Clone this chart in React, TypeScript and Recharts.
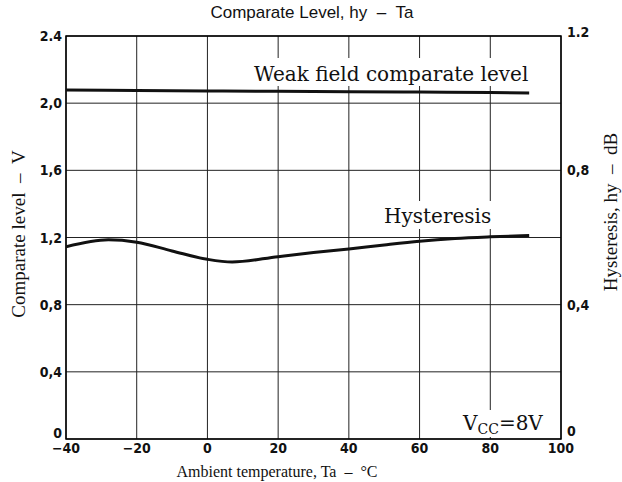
import {
  CartesianGrid,
  Line,
  LineChart,
  ReferenceArea,
  XAxis,
  YAxis,
} from 'recharts'

// valeurs
const tempTicks = [-40, -20, 0, 20, 40, 60, 80, 100]
const levelTicks = [0, 0.4, 0.8, 1.2, 1.6, 2.0, 2.4]
const levelTickLabels = ['0', '0,4', '0,8', '1,2', '1,6', '2,0', '2.4']
const hystTicks = [0, 0.4, 0.8, 1.2]
const hystTickLabels = ['0', '0,4', '0,8', '1.2']

const weakTemps = [-40, -20, 0, 20, 40, 60, 80, 91]
const weakLevel = [2.078, 2.076, 2.073, 2.071, 2.068, 2.066, 2.063, 2.06]

const hystTemps = [-40, -28, -20, -10, 0, 7, 20, 30, 40, 50, 60, 70, 80, 91]
const hystDb = [0.572, 0.593, 0.586, 0.56, 0.535, 0.527, 0.543, 0.555, 0.566, 0.578, 0.589, 0.597, 0.602, 0.606]

const weakData = weakTemps.map((t, i) => ({ t, v: weakLevel[i] }))
const hystData = hystTemps.map((t, i) => ({ t, h: hystDb[i] }))

const W = 622
const H = 482
const tickFont = "'DejaVu Sans Condensed', 'Liberation Sans', sans-serif"
const serif = "'Liberation Serif', 'Times New Roman', serif"
const wide = "'DejaVu Serif', serif"
const sp = '\u00a0\u00a0'

const tickStyle = { fill: '#111', fontSize: 14, fontWeight: 700, fontFamily: tickFont }

// étiquettes d'axe : le "0" du bas est remonté comme sur l'original
function LevelTick({ x, y, payload }: any) {
  const i = levelTicks.indexOf(payload.value)
  return (
    <text x={x} y={y + (payload.value === 0 ? -6 : 0)} dy={5} textAnchor="end" {...tickStyle}>
      {levelTickLabels[i] ?? payload.value}
    </text>
  )
}

function HystTick({ x, y, payload }: any) {
  const i = hystTicks.indexOf(payload.value)
  const shift = payload.value === 0 ? -8 : payload.value === 1.2 ? -4 : 0
  return (
    <text x={x} y={y + shift} dy={5} textAnchor="start" {...tickStyle}>
      {hystTickLabels[i] ?? payload.value}
    </text>
  )
}

export default function App() {
  return (
    <div style={{ position: 'absolute', left: 0, top: 0, width: W, height: H, background: '#fff' }}>
      <LineChart
        width={W}
        height={H}
        margin={{ top: 36, right: 11, bottom: 23, left: 16 }}
      >
        <CartesianGrid yAxisId="lvl" stroke="#222" strokeWidth={1} />
        <XAxis
          type="number"
          dataKey="t"
          domain={[-40, 100]}
          ticks={tempTicks}
          allowDataOverflow
          axisLine={false}
          tickLine={false}
          tickSize={0}
          tickMargin={4}
          height={20}
          tick={tickStyle}
          tickFormatter={(v) => (v < 0 ? `−${-v}` : `${v}`)}
        />
        <YAxis
          yAxisId="lvl"
          domain={[0, 2.4]}
          ticks={levelTicks}
          allowDataOverflow
          axisLine={false}
          tickLine={false}
          tickSize={0}
          tickMargin={4}
          width={50}
          tick={LevelTick}
        />
        <YAxis
          yAxisId="hy"
          orientation="right"
          domain={[0, 1.2]}
          ticks={hystTicks}
          allowDataOverflow
          axisLine={false}
          tickLine={false}
          tickSize={0}
          tickMargin={6}
          width={50}
          tick={HystTick}
        />
        <ReferenceArea
          yAxisId="lvl"
          x1={-40}
          x2={100}
          y1={0}
          y2={2.4}
          fill="none"
          stroke="#000"
          strokeWidth={1.5}
        />
        <Line
          yAxisId="lvl"
          data={weakData}
          dataKey="v"
          type="monotone"
          stroke="#111"
          strokeWidth={3}
          dot={false}
          isAnimationActive={false}
        />
        <Line
          yAxisId="hy"
          data={hystData}
          dataKey="h"
          type="monotone"
          stroke="#111"
          strokeWidth={3}
          dot={false}
          isAnimationActive={false}
        />
      </LineChart>
      <svg
        width={W}
        height={H}
        style={{ position: 'absolute', left: 0, top: 0, pointerEvents: 'none' }}
      >
        <text x={312} y={18} textAnchor="middle" fontFamily="'Liberation Sans', Arial, sans-serif" fontSize={17} fill="#111">
          {`Comparate Level, hy${sp}–${sp}Ta`}
        </text>

        <rect x={250} y={58} width={284} height={28} fill="#fff" />
        <text x={254} y={81} fontFamily={wide} fontSize={20} fill="#111">
          Weak field comparate level
        </text>

        <rect x={380} y={201} width={118} height={28} fill="#fff" />
        <text x={384} y={223} fontFamily={wide} fontSize={20} fill="#111">
          Hysteresis
        </text>

        <rect x={458} y={410} width={100} height={27} fill="#fff" />
        <text x={463} y={430} fontFamily={wide} fontSize={20} fill="#111">
          V<tspan fontSize={14} dy={4}>CC</tspan>
          <tspan dy={-4}>=8V</tspan>
        </text>

        <text x={277} y={477} textAnchor="middle" fontFamily={serif} fontSize={16} fill="#111">
          {`Ambient temperature, Ta${sp}–${sp}°C`}
        </text>
        <text
          x={0}
          y={0}
          transform="translate(25 234) rotate(-90)"
          textAnchor="middle"
          fontFamily={serif}
          fontSize={19}
          fill="#111"
        >
          {`Comparate level${sp}–${sp}V`}
        </text>
        <text
          x={0}
          y={0}
          transform="translate(617 212) rotate(-90)"
          textAnchor="middle"
          fontFamily={serif}
          fontSize={19}
          fill="#111"
        >
          {`Hysteresis, hy${sp}–${sp}dB`}
        </text>
      </svg>
    </div>
  )
}
